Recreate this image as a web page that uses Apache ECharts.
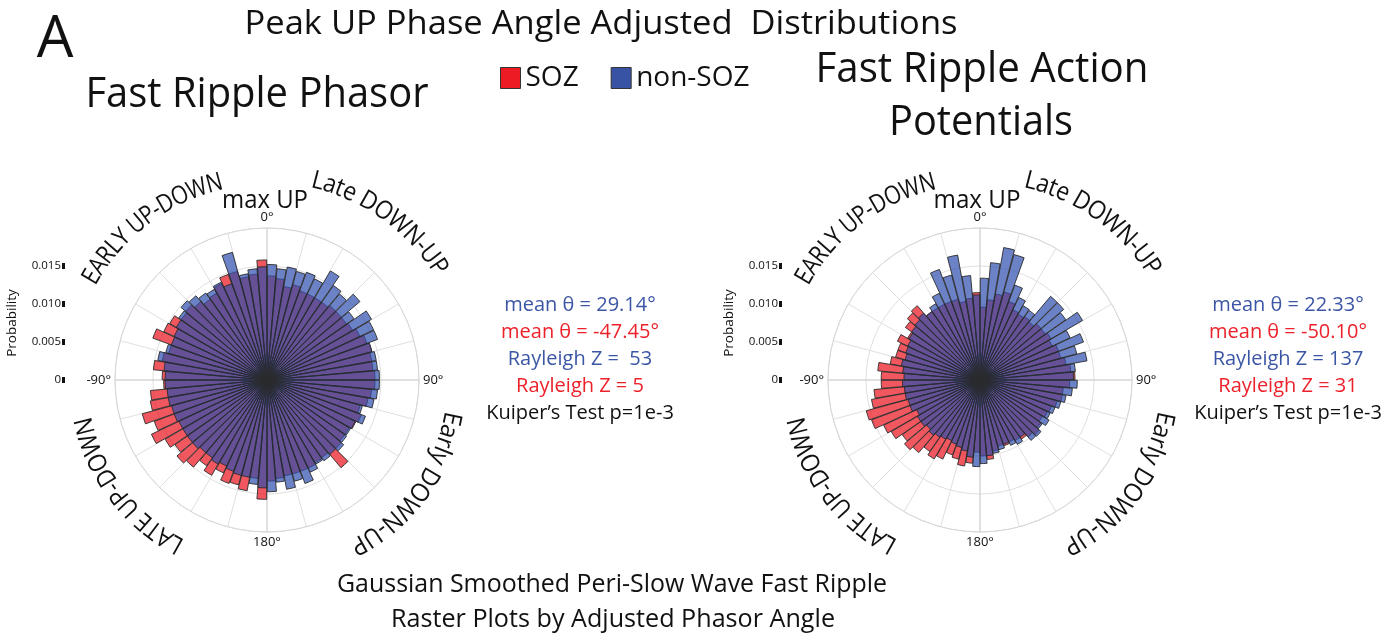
<!DOCTYPE html>
<html><head><meta charset="utf-8">
<script src="https://cdn.jsdelivr.net/npm/echarts@6/dist/echarts.min.js"></script>
<style>html,body{margin:0;padding:0;background:#fff}#c{width:1396px;height:635px}</style>
</head><body><div id="c"></div>
<script>
// ---------- DATA ----------
// bin start angles (deg, clockwise from max UP), 5 degree bins
const binStarts = [0,5,10,15,20,25,30,35,40,45,50,55,60,65,70,75,80,85,
  90,95,100,105,110,115,120,125,130,135,140,145,150,155,160,165,170,175,
  180,185,190,195,200,205,210,215,220,225,230,235,240,245,250,255,260,265,
  270,275,280,285,290,295,300,305,310,315,320,325,330,335,340,345,350,355];

// Fast Ripple Phasor
const phasorNonSOZ = [
  0.0152,0.0147,0.0151,0.0148,0.0151,0.0147,0.0166,0.0152,0.0148,0.0160,0.0140,0.0159,0.0155,0.0155,0.0143,0.0146,0.0146,0.0148,
  0.0148,0.0146,0.0143,0.0130,0.0138,0.0128,0.0127,0.0128,0.0132,0.0128,0.0130,0.0128,0.0134,0.0145,0.0138,0.0146,0.0135,0.0147,
  0.0142,0.0138,0.0130,0.0130,0.0128,0.0125,0.0128,0.0125,0.0125,0.0128,0.0128,0.0128,0.0128,0.0130,0.0130,0.0132,0.0132,0.0134,
  0.0134,0.0136,0.0146,0.0138,0.0134,0.0135,0.0138,0.0142,0.0148,0.0145,0.0140,0.0138,0.0142,0.0135,0.0174,0.0142,0.0147,0.0149];
const phasorSOZ = [
  0.0137,0.0134,0.0125,0.0130,0.0125,0.0125,0.0125,0.0125,0.0128,0.0128,0.0128,0.0130,0.0135,0.0140,0.0143,0.0140,0.0140,0.0142,
  0.0142,0.0138,0.0135,0.0127,0.0132,0.0129,0.0125,0.0125,0.0128,0.0151,0.0125,0.0126,0.0128,0.0128,0.0128,0.0128,0.0130,0.0133,
  0.0157,0.0130,0.0148,0.0143,0.0145,0.0135,0.0145,0.0138,0.0150,0.0155,0.0148,0.0155,0.0168,0.0158,0.0170,0.0156,0.0154,0.0136,
  0.0138,0.0150,0.0140,0.0134,0.0160,0.0150,0.0148,0.0138,0.0140,0.0135,0.0130,0.0132,0.0140,0.0148,0.0148,0.0138,0.0140,0.0158];

// Fast Ripple Action Potentials
const apNonSOZ = [
  0.0134,0.0155,0.0177,0.0171,0.0133,0.0120,0.0113,0.0112,0.0144,0.0144,0.0138,0.0156,0.0131,0.0145,0.0132,0.0143,0.0126,0.0123,
  0.0128,0.0122,0.0115,0.0110,0.0105,0.0102,0.0105,0.0100,0.0105,0.0104,0.0092,0.0098,0.0095,0.0090,0.0095,0.0098,0.0100,0.0110,
  0.0114,0.0102,0.0095,0.0092,0.0090,0.0088,0.0090,0.0092,0.0095,0.0092,0.0095,0.0095,0.0092,0.0098,0.0098,0.0100,0.0100,0.0102,
  0.0100,0.0102,0.0105,0.0102,0.0104,0.0105,0.0108,0.0110,0.0112,0.0115,0.0110,0.0116,0.0126,0.0155,0.0143,0.0167,0.0138,0.0112];
const apSOZ = [
  0.0096,0.0106,0.0115,0.0120,0.0110,0.0102,0.0100,0.0102,0.0100,0.0105,0.0105,0.0108,0.0105,0.0110,0.0110,0.0115,0.0120,0.0125,
  0.0118,0.0110,0.0110,0.0105,0.0100,0.0098,0.0095,0.0098,0.0102,0.0098,0.0095,0.0092,0.0090,0.0092,0.0090,0.0095,0.0105,0.0100,
  0.0095,0.0110,0.0115,0.0108,0.0105,0.0115,0.0120,0.0115,0.0125,0.0130,0.0125,0.0135,0.0140,0.0152,0.0155,0.0145,0.0140,0.0130,
  0.0130,0.0135,0.0120,0.0115,0.0115,0.0120,0.0110,0.0120,0.0125,0.0128,0.0110,0.0110,0.0110,0.0110,0.0110,0.0105,0.0108,0.0115];

const probTicks = [0, 0.005, 0.010, 0.015];
const probTickLabels = ['0', '0.005', '0.010', '0.015'];
const angleTickLabels = {0: '0°', 90: '90°', 180: '180°', 270: '-90°'};
const statsPhasor = ['mean θ = 29.14°', 'mean θ = -47.45°', 'Rayleigh Z =  53', 'Rayleigh Z = 5', 'Kuiper’s Test p=1e-3'];
const statsAP = ['mean θ = 22.33°', 'mean θ = -50.10°', 'Rayleigh Z = 137', 'Rayleigh Z = 31', 'Kuiper’s Test p=1e-3'];

// ---------- STYLE / LAYOUT ----------
const FONT = 'Open Sans';
const C1 = [267, 380], C2 = [980, 380], RAD = 152, RMAX = 0.02;
const RED = 'rgba(233,16,26,0.7)', BLUE = 'rgba(44,79,174,0.7)';
const TXT_BLUE = '#3c56a6', TXT_RED = '#ec222b';

const mctx = document.createElement('canvas').getContext('2d');
function measure(text, size) { mctx.font = size + 'px "' + FONT + '"'; return mctx.measureText(text).width; }

function label(text, cx, cy, size, width, color) {
  const sx = width ? width / measure(text, size) : 1;
  return { type: 'text', x: cx, y: cy, scaleX: sx, silent: true,
    style: { text: text, fill: color || '#111', fontSize: size, fontFamily: FONT, align: 'center', verticalAlign: 'middle' } };
}

function arcText(text, c, R, centerDeg, size, arcLen) {
  const chars = Array.from(text);
  const w = chars.map(ch => measure(ch, size));
  const total = w.reduce((a, b) => a + b, 0);
  const sx = arcLen / total;
  const start = centerDeg * Math.PI / 180 - arcLen / (2 * R);
  let acc = 0;
  return chars.map((ch, i) => {
    const a = start + (acc + w[i] * sx / 2) / R;
    acc += w[i] * sx;
    return { type: 'text', x: c[0] + R * Math.sin(a), y: c[1] - R * Math.cos(a), rotation: -a, scaleX: sx, silent: true,
      style: { text: ch, fill: '#111', fontSize: size, fontFamily: FONT, align: 'center', verticalAlign: 'middle' } };
  });
}

function gridAngle(pi) {
  return { polarIndex: pi, type: 'value', min: 0, max: 360, interval: 15, startAngle: 90, clockwise: true,
    axisLine: { show: true, lineStyle: { color: '#d8d8d8', width: 1 } },
    axisTick: { show: false },
    splitLine: { show: true, lineStyle: { color: ['#c2c2c2', '#e0e0e0', '#e0e0e0', '#e0e0e0', '#e0e0e0', '#e0e0e0'], width: 1 } },
    axisLabel: { formatter: v => angleTickLabels[v] || '', fontSize: 13, fontFamily: FONT, color: '#111', margin: 4 } };
}
function gridRadius(pi) {
  return { polarIndex: pi, type: 'value', min: 0, max: RMAX, interval: 0.005,
    axisLine: { show: false }, axisTick: { show: false }, axisLabel: { show: false },
    splitLine: { show: true, lineStyle: { color: '#e0e0e0', width: 1 } } };
}
function barAngle(pi) {
  return { polarIndex: pi, type: 'category', data: binStarts, startAngle: 90, clockwise: true,
    axisLine: { show: false }, axisTick: { show: false }, axisLabel: { show: false }, splitLine: { show: false } };
}
function barRadius(pi) {
  return { polarIndex: pi, type: 'value', min: 0, max: RMAX,
    axisLine: { show: false }, axisTick: { show: false }, axisLabel: { show: false }, splitLine: { show: false } };
}
function probAxis(gi) {
  return { gridIndex: gi, type: 'value', min: probTicks[0], max: probTicks[probTicks.length - 1], interval: 0.005, position: 'left',
    axisLine: { show: false }, splitLine: { show: false },
    axisTick: { show: true, length: 3, lineStyle: { color: '#111', width: 6 } },
    axisLabel: { formatter: v => probTickLabels[probTicks.findIndex(t => Math.abs(t - v) < 1e-9)] || '', fontSize: 11.5, fontFamily: FONT, color: '#111', margin: 4 },
    name: 'Probability', nameLocation: 'middle', nameGap: 46, nameRotate: 90,
    nameTextStyle: { fontSize: 13.5, fontFamily: FONT, color: '#111' } };
}
function bars(name, data, pi, color, z) {
  return { type: 'bar', name: name, coordinateSystem: 'polar', polarIndex: pi, data: data,
    barGap: '-100%', barCategoryGap: '6%', z: z,
    itemStyle: { color: color, borderColor: '#2a2a2a', borderWidth: 0.9 } };
}

const gridH = RAD * 0.015 / RMAX;
const graphics = [
  label('A', 55, 40, 58, 0),
  label('Peak UP Phase Angle Adjusted  Distributions', 601, 25, 33, 713),
  label('Fast Ripple Phasor', 257, 95, 42, 343),
  label('Fast Ripple Action', 982, 70, 42, 333),
  label('Potentials', 981, 123, 42, 184),
  label('Gaussian Smoothed Peri-Slow Wave Fast Ripple', 612, 585, 25, 550),
  label('Raster Plots by Adjusted Phasor Angle', 613, 620, 25, 444),
  label('max UP', 265, 201, 25, 86),
  label('max UP', 977, 201, 25, 87)
];
const statColors = [TXT_BLUE, TXT_RED, TXT_BLUE, TXT_RED, '#111'];
statsPhasor.forEach((t, i) => graphics.push(label(t, 580, 305 + 27 * i, 20, 0, statColors[i])));
statsAP.forEach((t, i) => graphics.push(label(t, 1288, 305 + 27 * i, 20, 0, statColors[i])));
[C1, C2].forEach(c => {
  graphics.push(...arcText('EARLY UP-DOWN', c, 203, -37, 25.5, 172));
  graphics.push(...arcText('Late DOWN-UP', c, 205, 35.6, 25.5, 164));
  graphics.push(...arcText('Early DOWN-UP', c, 188, 126.5, 25.5, 175));
  graphics.push(...arcText('LATE UP-DOWN', c, 187, 232.8, 25.5, 167));
});

const option = {
  animation: false,
  backgroundColor: '#fff',
  polar: [
    { center: C1, radius: RAD }, { center: C1, radius: RAD },
    { center: C2, radius: RAD }, { center: C2, radius: RAD }
  ],
  angleAxis: [gridAngle(0), barAngle(1), gridAngle(2), barAngle(3)],
  radiusAxis: [gridRadius(0), barRadius(1), gridRadius(2), barRadius(3)],
  grid: [
    { left: 65, top: C1[1] - gridH, width: 10, height: gridH },
    { left: 782, top: C2[1] - gridH, width: 10, height: gridH }
  ],
  xAxis: [{ gridIndex: 0, show: false }, { gridIndex: 1, show: false }],
  yAxis: [probAxis(0), probAxis(1)],
  legend: {
    left: 500, top: 64, padding: 0, itemWidth: 20, itemHeight: 21, itemGap: 32, icon: 'rect',
    textStyle: { fontSize: 28, fontFamily: FONT, color: '#111' },
    data: [
      { name: 'SOZ', itemStyle: { color: '#ed1c24', opacity: 1, borderColor: '#333', borderWidth: 1 } },
      { name: 'non-SOZ', itemStyle: { color: '#3953a4', opacity: 1, borderColor: '#333', borderWidth: 1 } }
    ]
  },
  series: [
    bars('SOZ', phasorSOZ, 1, RED, 2),
    bars('non-SOZ', phasorNonSOZ, 1, BLUE, 3),
    bars('SOZ', apSOZ, 3, RED, 2),
    bars('non-SOZ', apNonSOZ, 3, BLUE, 3)
  ],
  graphic: graphics
};
const chart = echarts.init(document.getElementById('c'), null, { renderer: 'canvas' });
chart.setOption(option);
</script></body></html>
